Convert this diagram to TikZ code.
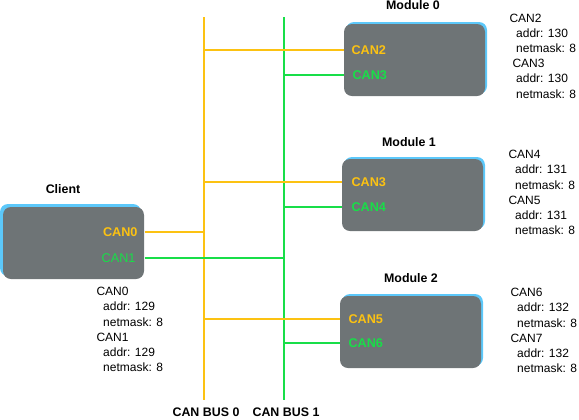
\documentclass[tikz,border=0pt]{standalone}
\usepackage{fontspec}
\setmainfont{Liberation Sans}

\definecolor{busyellow}{RGB}{252,194,18}
\definecolor{busgreen}{RGB}{24,222,72}
\definecolor{boxgray}{RGB}{110,116,118}
\definecolor{shadowblue}{RGB}{92,200,250}

\tikzset{every picture/.style={line width=0.75pt}}
\tikzset{
  modbox/.style={fill=boxgray, rounded corners=6pt, minimum width=105.75pt, minimum height=54pt, inner sep=0pt},
  ybus/.style={draw=busyellow, line width=1.5pt},
  gbus/.style={draw=busgreen, line width=1.5pt},
  title/.style={font=\fontsize{9.3}{11.4}\selectfont\bfseries, inner sep=0.75pt},
  port/.style={font=\fontsize{9.5}{11.4}\selectfont, inner sep=0pt, anchor=west},
  boldport/.style={port, font=\fontsize{9.5}{11.4}\selectfont\bfseries},
  info/.style={font=\fontsize{9}{11.4}\selectfont, inner sep=0pt, anchor=west, align=left}
}

\begin{document}
\begin{tikzpicture}[x=0.75pt,y=0.75pt,yscale=-1,xscale=1]
        \useasboundingbox (0,0) rectangle (579,419);

        %Shape: Shadows
        \fill [shadowblue, rounded corners=6pt] (0,204) rectangle (141,276);
        \fill [shadowblue, rounded corners=6pt] (346,22) rectangle (487,94);
        \fill [shadowblue, rounded corners=6pt] (344,157) rectangle (485,229);
        \fill [shadowblue, rounded corners=6pt] (342,294) rectangle (483,366);

        %Shape: Boxes
        \node [modbox] (client) at (73.5,243) {};
        \node [modbox] (mod0) at (414.5,60) {};
        \node [modbox] (mod1) at (412.5,195) {};
        \node [modbox] (mod2) at (410.5,332) {};

        % Text Node: titles
        \node [title] (client-title) at (63,189) {Client};
        \node [title] (mod0-title) at (413,5) {Module 0};
        \node [title] (mod1-title) at (409,142) {Module 1};
        \node [title] (mod2-title) at (411,278) {Module 2};

        % Text Node: ports
        \node [boldport, anchor=east, text=busyellow] (client-can0) at (138,232) {CAN0};
        \node [port, anchor=east, text=busgreen] (client-can1) at (136,258) {CAN1};
        \node [boldport, text=busyellow] (mod0-can2) at (351,50) {CAN2};
        \node [boldport, text=busgreen] (mod0-can3) at (352,75) {CAN3};
        \node [boldport, text=busyellow] (mod1-can3) at (351,182) {CAN3};
        \node [boldport, text=busgreen] (mod1-can4) at (351,207) {CAN4};
        \node [boldport, text=busyellow] (mod2-can5) at (348,319) {CAN5};
        \node [boldport, text=busgreen] (mod2-can6) at (348,343) {CAN6};

        %Straight Lines: buses
        \coordinate (bus0-top) at (204,17);
        \coordinate (bus0-bot) at (204,400);
        \coordinate (bus1-top) at (284,17);
        \coordinate (bus1-bot) at (284,400);
        \draw [ybus] (bus0-top) -- (bus0-bot);
        \draw [gbus] (bus1-top) -- (bus1-bot);

        %Straight Lines: taps
        \draw [ybus] (client.east |- client-can0) -- (bus0-top |- client-can0);
        \draw [gbus] (client.east |- client-can1) -- (bus1-top |- client-can1);
        \draw [ybus] (bus0-top |- mod0-can2) -- (mod0.west |- mod0-can2);
        \draw [gbus] (bus1-top |- mod0-can3) -- (mod0.west |- mod0-can3);
        \draw [ybus] (bus0-top |- mod1-can3) -- (mod1.west |- mod1-can3);
        \draw [gbus] (bus1-top |- mod1-can4) -- (mod1.west |- mod1-can4);
        \draw [ybus] (bus0-top |- mod2-can5) -- (mod2.west |- mod2-can5);
        \draw [gbus] (bus1-top |- mod2-can6) -- (mod2.west |- mod2-can6);

        % Text Node: bus names
        \node [title] (bus0-label) at (206,412) {CAN BUS 0};
        \node [title] (bus1-label) at (286,412) {CAN BUS 1};

        % Text Node: addresses
        \node [info] (client-info) at (96,329.5) {CAN0\\\hspace*{5pt}addr: 129\\\hspace*{5pt}netmask: 8\\CAN1\\\hspace*{5pt}addr: 129\\\hspace*{5pt}netmask: 8};
        \node [info] (mod0-info) at (509,56) {CAN2\\\hspace*{5pt}addr: 130\\\hspace*{5pt}netmask: 8\\\hspace*{2.25pt}CAN3\\\hspace*{5pt}addr: 130\\\hspace*{5pt}netmask: 8};
        \node [info] (mod1-info) at (508,192.5) {CAN4\\\hspace*{5pt}addr: 131\\\hspace*{5pt}netmask: 8\\CAN5\\\hspace*{5pt}addr: 131\\\hspace*{5pt}netmask: 8};
        \node [info] (mod2-info) at (510,330.5) {CAN6\\\hspace*{5pt}addr: 132\\\hspace*{5pt}netmask: 8\\CAN7\\\hspace*{5pt}addr: 132\\\hspace*{5pt}netmask: 8};

\end{tikzpicture}
\end{document}
